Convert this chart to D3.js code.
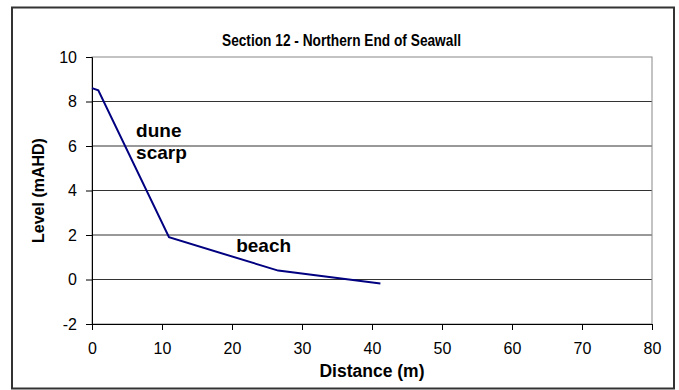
<!DOCTYPE html>
<html>
<head>
<meta charset="utf-8">
<script src="https://cdn.jsdelivr.net/npm/d3@7"></script>
<style>
  body { margin: 0; background: #fff; }
  text { font-family: "Liberation Sans", Arial, sans-serif; }
</style>
</head>
<body>
<svg id="chart" width="679" height="390"></svg>
<script>
const distance = [0, 0.9, 11, 26.6, 41.2];
const level = [8.6, 8.5, 1.9, 0.4, -0.18];
const xTicks = [0, 10, 20, 30, 40, 50, 60, 70, 80];
const yTicks = [-2, 0, 2, 4, 6, 8, 10];
const labels = [
  { text: "dune", x: 6.3, y: 6.42 },
  { text: "scarp", x: 6.3, y: 5.42 },
  { text: "beach", x: 20.6, y: 1.25 }
];

const margin = { top: 57, right: 27, bottom: 66, left: 92 };
const width = 679 - margin.left - margin.right;
const height = 390 - margin.top - margin.bottom;

const svg = d3.select("#chart");

svg.append("rect")
  .attr("x", 12).attr("y", 7.5)
  .attr("width", 662).attr("height", 381)
  .attr("fill", "#fff")
  .attr("stroke", "#333")
  .attr("stroke-width", 2);

// the title is a tall, narrow bold face in the original
svg.append("text")
  .attr("x", 341.5).attr("y", 46)
  .attr("text-anchor", "middle")
  .attr("textLength", 239)
  .attr("lengthAdjust", "spacingAndGlyphs")
  .style("font-size", "16.5px")
  .style("font-weight", "bold")
  .text("Section 12 - Northern End of Seawall");

const g = svg.append("g")
  .attr("transform", `translate(${margin.left},${margin.top})`);

const x = d3.scaleLinear().domain([0, 80]).range([0, width]);
const y = d3.scaleLinear().domain([-2, 10]).range([height, 0]);

// gridlines
g.selectAll(".grid")
  .data(yTicks.filter((d) => d > -2 && d < 10))
  .enter()
  .append("line")
  .attr("x1", 0).attr("x2", width)
  .attr("y1", (d) => y(d)).attr("y2", (d) => y(d))
  .attr("stroke", "#333")
  .attr("stroke-width", 1);

// plot area border
g.append("rect")
  .attr("width", width).attr("height", height)
  .attr("fill", "none")
  .attr("stroke", "#888")
  .attr("stroke-width", 1);

const xAxis = g.append("g")
  .attr("transform", `translate(0,${height})`)
  .call(d3.axisBottom(x).tickValues(xTicks).tickFormat((d) => String(d)).tickSize(6).tickPadding(13));
xAxis.select(".domain").attr("stroke", "#000");
xAxis.selectAll("text").style("font-size", "16px").attr("fill", "#000");

const yAxis = g.append("g")
  .call(d3.axisLeft(y).tickValues(yTicks).tickFormat((d) => String(d)).tickSize(6).tickPadding(9));
yAxis.select(".domain").attr("stroke", "#000");
yAxis.selectAll("text").style("font-size", "16px").attr("fill", "#000");

const line = d3.line()
  .x((d, i) => x(distance[i]))
  .y((d) => y(d));

g.append("path")
  .datum(level)
  .attr("d", line)
  .attr("fill", "none")
  .attr("stroke", "#000080")
  .attr("stroke-width", 2);

g.selectAll(".lbl")
  .data(labels)
  .enter()
  .append("text")
  .attr("x", (d) => x(d.x))
  .attr("y", (d) => y(d.y))
  .style("font-size", "19px")
  .style("font-weight", "bold")
  .text((d) => d.text);

svg.append("text")
  .attr("x", margin.left + width / 2).attr("y", 377)
  .attr("text-anchor", "middle")
  .style("font-size", "17.5px")
  .style("font-weight", "bold")
  .text("Distance (m)");

svg.append("text")
  .attr("transform", `translate(44,${margin.top + height / 2}) rotate(-90)`)
  .attr("text-anchor", "middle")
  .style("font-size", "16px")
  .style("font-weight", "bold")
  .text("Level (mAHD)");
</script>
</body>
</html>
